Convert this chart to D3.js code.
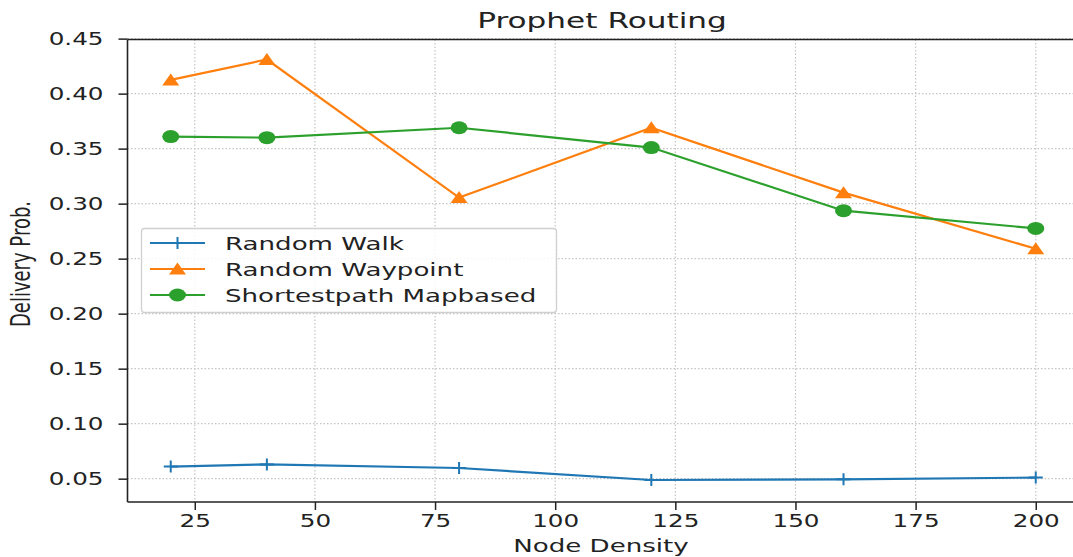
<!DOCTYPE html>
<html><head><meta charset="utf-8">
<script src="https://cdn.jsdelivr.net/npm/d3@7"></script>
<style>body{margin:0;background:#fff}svg{display:block}text{font-family:"DejaVu Sans",sans-serif;fill:#222}</style>
</head><body><svg id="c" width="1073" height="557"></svg>
<script>
const nodeDensity = [20, 40, 80, 120, 160, 200];
const randomWalk = [0.061, 0.063, 0.0597, 0.0488, 0.0494, 0.051];
const randomWaypoint = [0.4125, 0.431, 0.3055, 0.369, 0.310, 0.259];
const shortestPath = [0.361, 0.360, 0.369, 0.351, 0.2936, 0.2775];
const seriesNames = ["Random Walk", "Random Waypoint", "Shortestpath Mapbased"];
const xTicks = [25, 50, 75, 100, 125, 150, 175, 200];
const yTicks = [0.05, 0.10, 0.15, 0.20, 0.25, 0.30, 0.35, 0.40, 0.45];

const SX = 1.45; // horizontal stretch of the original picture
const svg = d3.select("#c");
const L = 127.5, R = 1079, T = 39.5, B = 502;
const x = d3.scaleLinear().domain([11, 209]).range([L, R]);
const y = d3.scaleLinear().domain([0.0288, 0.4492]).range([B, T]);

// grid
const grid = svg.append("g");
grid.selectAll(".gx").data(xTicks).join("line")
  .attr("x1", d => x(d)).attr("x2", d => x(d)).attr("y1", T).attr("y2", B)
  .attr("stroke", "#c4c4c4").attr("stroke-width", 1.2).attr("stroke-dasharray", "1.5,2");
grid.selectAll(".gy").data(yTicks).join("line")
  .attr("x1", L).attr("x2", 1073).attr("y1", d => y(d)).attr("y2", d => y(d))
  .attr("stroke", "#c4c4c4").attr("stroke-width", 1.2).attr("stroke-dasharray", "1.5,2");

// axes
const xAxis = svg.append("g").attr("transform", `translate(0,${B})`)
  .call(d3.axisBottom(x).tickValues(xTicks).tickSize(8).tickPadding(4).tickFormat(d3.format("d")));
const yAxis = svg.append("g").attr("transform", `translate(${L},0)`)
  .call(d3.axisLeft(y).tickValues(yTicks).tickSize(9).tickPadding(15).tickFormat(d3.format(".2f")));
[xAxis, yAxis].forEach(a => {
  a.select(".domain").remove();
  a.selectAll(".tick line").attr("stroke", "#222").attr("stroke-width", 1.5);
  a.selectAll("text").attr("font-size", 17).attr("fill", "#222")
    .attr("font-family", "DejaVu Sans");
});
// stretch tick text horizontally about its anchor
xAxis.selectAll(".tick text").attr("dy", "0.71em").attr("y", 13)
  .attr("transform", `scale(${SX},1)`);
yAxis.selectAll(".tick text").attr("transform", function(){
  const xx = +d3.select(this).attr("x");
  return `translate(${xx},0) scale(${SX},1) translate(${-xx},0)`;
});
// spines (left, top, bottom)
svg.append("line").attr("x1", L).attr("x2", L).attr("y1", T).attr("y2", B).attr("stroke", "#222").attr("stroke-width", 1.6);
svg.append("line").attr("x1", L).attr("x2", 1073).attr("y1", T).attr("y2", T).attr("stroke", "#222").attr("stroke-width", 1.6);
svg.append("line").attr("x1", L).attr("x2", 1073).attr("y1", B).attr("y2", B).attr("stroke", "#222").attr("stroke-width", 1.6);

// series
const colors = ["#1f77b4", "#ff7f0e", "#2ca02c"];
const data = [randomWalk, randomWaypoint, shortestPath];
const line = d3.line().x((d, i) => x(nodeDensity[i])).y(d => y(d));

function marker(g, kind, cx, cy, color) {
  if (kind === 0) {
    g.append("path").attr("d", `M${cx-7},${cy}H${cx+7}M${cx},${cy-6}V${cy+6}`)
      .attr("stroke", color).attr("stroke-width", 2).attr("fill", "none");
  } else if (kind === 1) {
    g.append("path").attr("d", `M${cx},${cy-6.5}L${cx+8.5},${cy+5.5}L${cx-8.5},${cy+5.5}Z`).attr("fill", color);
  } else {
    g.append("ellipse").attr("cx", cx).attr("cy", cy).attr("rx", 8.5).attr("ry", 6.5).attr("fill", color);
  }
}

data.forEach((vals, k) => {
  const g = svg.append("g");
  g.append("path").datum(vals).attr("d", line).attr("fill", "none")
    .attr("stroke", colors[k]).attr("stroke-width", 2.2);
  vals.forEach((v, i) => marker(g, k, x(nodeDensity[i]), y(v), colors[k]));
});

// title and labels
function stretchedText(txt, cx, cy, size) {
  svg.append("text").attr("transform", `translate(${cx},${cy}) scale(${SX},1)`)
    .attr("text-anchor", "middle").attr("font-size", size).text(txt);
}
stretchedText("Prophet Routing", 602, 28, 21.5);
stretchedText("Node Density", 601, 552, 18);
svg.append("text").attr("transform", `translate(30,264) rotate(-90) scale(1,${SX})`)
  .attr("text-anchor", "middle").attr("font-size", 18).text("Delivery Prob.");

// legend
const lg = svg.append("g");
lg.append("rect").attr("x", 141.5).attr("y", 228.5).attr("width", 415).attr("height", 84)
  .attr("rx", 3).attr("fill", "#fff").attr("fill-opacity", 0.85).attr("stroke", "#d0d0d0").attr("stroke-width", 1.3);
seriesNames.forEach((name, k) => {
  const yy = 243 + k * 26;
  lg.append("line").attr("x1", 150).attr("x2", 205).attr("y1", yy).attr("y2", yy)
    .attr("stroke", colors[k]).attr("stroke-width", 2.2);
  marker(lg, k, 177.5, yy, colors[k]);
  lg.append("text").attr("transform", `translate(225,${yy + 6.5}) scale(${SX},1)`)
    .attr("font-size", 18).text(name);
});
</script></body></html>
